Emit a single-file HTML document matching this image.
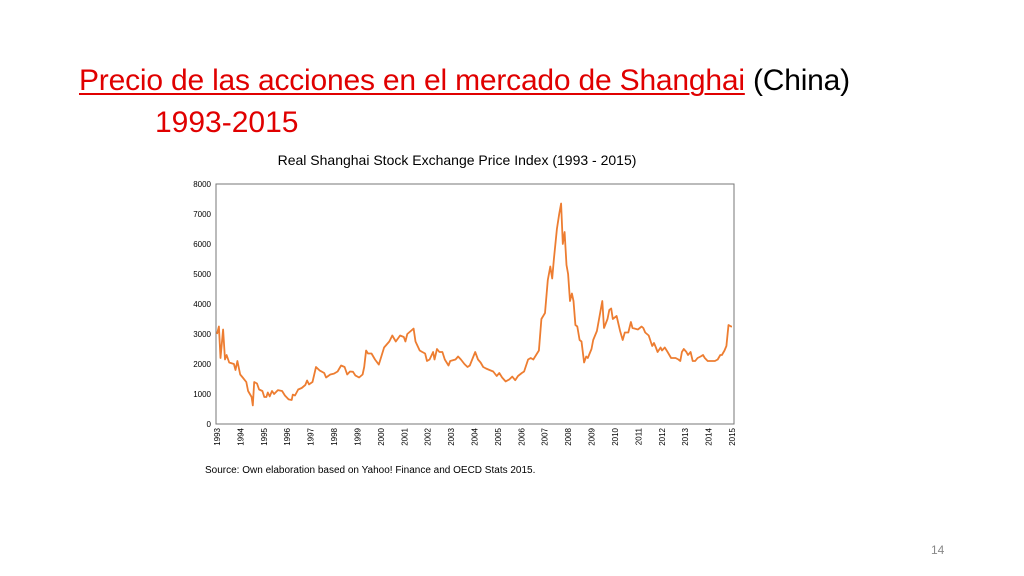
<!DOCTYPE html>
<html><head><meta charset="utf-8"><style>
body{margin:0;width:1024px;height:576px;background:#fff;overflow:hidden;position:relative;font-family:"Liberation Sans",sans-serif}
#t1{position:absolute;left:79px;top:64px;font-size:30px;color:#000;white-space:nowrap;letter-spacing:-0.2px}
#t1 u{color:#e00000;text-decoration-thickness:2px;text-underline-offset:3px}
#t2{position:absolute;left:155px;top:106px;font-size:30px;color:#e00000}
#pg{position:absolute;left:931px;top:543px;font-size:12px;color:#888}
</style></head><body>
<div id="t1"><u>Precio de las acciones en el mercado de Shanghai</u> (China)</div>
<div id="t2">1993-2015</div>
<svg id="chart" width="1024" height="576" style="position:absolute;left:0;top:0">
<text x="457" y="165" text-anchor="middle" font-size="14">Real Shanghai Stock Exchange Price Index (1993 - 2015)</text>
<rect x="216" y="184" width="518" height="240" fill="none" stroke="#777" stroke-width="1"/>
<g id="yt"></g><g id="xt"></g>
<path id="line" fill="none" stroke="#ed7d31" stroke-width="1.8" stroke-linejoin="round"/>
<text x="205" y="473" font-size="10">Source: Own elaboration based on Yahoo! Finance and OECD Stats 2015.</text>
</svg>
<div id="pg">14</div>
<script>
const yTicks=[0,1000,2000,3000,4000,5000,6000,7000,8000];
const xYears=[1993,1994,1995,1996,1997,1998,1999,2000,2001,2002,2003,2004,2005,2006,2007,2008,2009,2010,2011,2012,2013,2014,2015];
const tOffsets=[0,.08,.15,.26,.34,.41,.52,.72,.79,.87,.99,1.10,1.25,1.33,1.48,1.53,1.59,1.71,1.80,1.94,2.02,2.11,2.17,2.25,2.35,2.44,2.60,2.78,2.90,3.06,3.19,3.24,3.33,3.47,3.62,3.77,3.85,3.93,4.08,4.23,4.39,4.58,4.66,4.84,5.00,5.15,5.30,5.45,5.56,5.68,5.81,5.91,6.07,6.22,6.29,6.37,6.45,6.60,6.75,6.91,6.98,7.14,7.36,7.49,7.64,7.82,7.98,8.05,8.13,8.28,8.40,8.48,8.66,8.77,8.89,8.97,9.08,9.23,9.29,9.40,9.50,9.63,9.73,9.89,9.96,10.19,10.30,10.42,10.57,10.70,10.80,11.03,11.15,11.26,11.37,11.49,11.64,11.80,11.95,12.06,12.18,12.33,12.48,12.61,12.74,12.86,13.02,13.12,13.29,13.40,13.51,13.63,13.75,13.86,14.01,14.13,14.24,14.32,14.39,14.52,14.62,14.70,14.77,14.85,14.93,15.00,15.08,15.16,15.23,15.31,15.39,15.49,15.57,15.68,15.77,15.84,16.00,16.07,16.23,16.38,16.46,16.53,16.68,16.76,16.84,16.91,17.07,17.22,17.33,17.42,17.57,17.68,17.75,17.98,18.14,18.21,18.29,18.44,18.59,18.67,18.75,18.82,18.95,19.01,19.13,19.25,19.40,19.59,19.71,19.79,19.86,19.94,20.05,20.12,20.23,20.32,20.43,20.53,20.66,20.76,20.84,20.96,21.27,21.39,21.50,21.57,21.68,21.76,21.85,21.96,22.0];
const prices=[3000,3250,2200,3150,2150,2300,2050,2000,1800,2100,1650,1550,1400,1100,900,620,1400,1350,1150,1100,900,900,1050,920,1100,1000,1130,1100,950,820,800,980,950,1150,1200,1300,1450,1320,1400,1900,1780,1700,1550,1650,1680,1750,1950,1900,1650,1750,1740,1620,1550,1650,1900,2450,2350,2350,2150,1980,2150,2550,2750,2950,2750,2950,2900,2750,3000,3100,3180,2750,2450,2400,2350,2100,2150,2400,2150,2500,2400,2400,2150,1950,2100,2150,2250,2150,2000,1900,1950,2400,2150,2050,1900,1850,1800,1750,1600,1700,1550,1420,1480,1580,1460,1600,1700,1750,2150,2200,2150,2300,2450,3500,3700,4800,5250,4850,5500,6500,7000,7350,6000,6400,5300,5000,4100,4350,4100,3300,3250,2800,2750,2050,2250,2200,2500,2800,3100,3750,4100,3200,3500,3800,3850,3500,3600,3100,2800,3050,3050,3400,3200,3150,3250,3200,3050,2950,2600,2700,2550,2400,2550,2450,2550,2400,2200,2200,2150,2100,2400,2500,2400,2300,2400,2100,2100,2200,2250,2300,2200,2100,2100,2150,2300,2300,2450,2600,3300,3250,3250];
const X0=217,X1=732,Y0=424,Y1=184;
const xs=y=>X0+(y-1993)/(2015-1993)*(X1-X0);
const ys=v=>Y0-v/8000*(Y0-Y1);
const NS="http://www.w3.org/2000/svg";
const yt=document.getElementById('yt'),xt=document.getElementById('xt');
yTicks.forEach(v=>{const t=document.createElementNS(NS,'text');


t.setAttribute('x',211);t.setAttribute('y',ys(v)+3);t.setAttribute('text-anchor','end');t.setAttribute('font-size','8');t.textContent=v;yt.appendChild(t);});
xYears.forEach(yr=>{const t=document.createElementNS(NS,'text');


const x=xs(yr)+3,y=428;t.setAttribute('transform',`translate(${x},${y}) rotate(-90)`);t.setAttribute('text-anchor','end');t.setAttribute('font-size','8');t.textContent=yr;xt.appendChild(t);});
document.getElementById('line').setAttribute('d',prices.map((v,i)=>(i?'L':'M')+xs(1993+tOffsets[i]).toFixed(1)+','+ys(v).toFixed(1)).join(''));
</script>
</body></html>
